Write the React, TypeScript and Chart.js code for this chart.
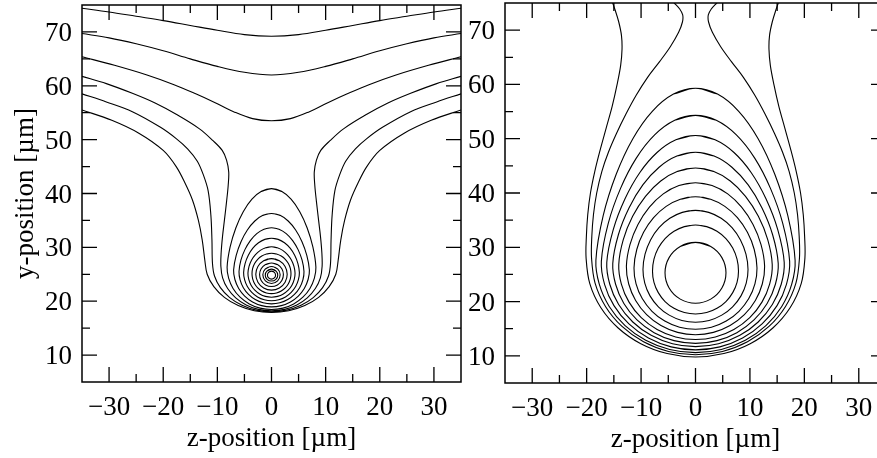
import React, { useEffect, useRef } from "react";
import { Chart, registerables } from "chart.js";

Chart.register(...registerables);

type P = [number, number];

// ---------- Left panel: open curves (right half, centre -> edge) ----------
const leftOpen1: P[] = [[0, 69.2], [5, 69.5], [10, 70.3], [15, 71.2], [20, 72.1], [25, 72.9], [30, 73.7], [35, 74.4]];
const leftOpen2: P[] = [[0, 62.0], [5, 62.5], [10, 63.6], [15, 65.0], [20, 66.5], [25, 67.8], [30, 68.9], [35, 69.7]];
const leftOpen3: P[] = [[0, 53.5], [3.5, 53.9], [7, 55.2], [10.5, 56.9], [14, 58.5], [18, 60.2], [23, 62.0], [29, 63.8], [35, 65.4]];
// deep U curves (right half, bottom -> edge)
const leftU4: P[] = [[0, 18.2], [2.42, 18.48], [4.68, 19.31], [6.61, 20.63], [8.1, 22.35], [9.03, 24.35], [9.35, 26.5], [9.3, 29], [9.05, 32], [8.7, 35], [8.3, 38.5], [8.0, 41.5], [7.9, 44], [8.3, 46.2], [9.1, 48], [10.8, 49.8], [13.3, 52.0], [17.6, 54.7], [21.5, 56.8], [25.7, 58.6], [30.5, 60.4], [35, 61.75]];
const leftU5: P[] = [[0, 18.05], [2.82, 18.35], [5.45, 19.25], [7.71, 20.67], [9.44, 22.53], [10.53, 24.68], [10.9, 27], [11.0, 31.4], [11.2, 36], [11.7, 40.5], [12.6, 43.5], [13.7, 46], [15.5, 48.3], [17.6, 50.2], [20.5, 52.3], [25.7, 55.2], [30.5, 57.0], [35, 58.5]];
const leftU6: P[] = [[0, 17.9], [3.19, 18.23], [6.15, 19.19], [8.7, 20.71], [10.65, 22.7], [11.88, 25.01], [12.3, 27.5], [12.8, 31.4], [13.5, 35], [14.6, 38.8], [16.0, 42], [17.6, 45.0], [20, 48], [24.5, 51.2], [29.5, 53.6], [35, 55.5]];
// closed loops (right half, top -> bottom)
const leftLoop1: P[] = [[0, 40.9], [1.85, 40.4], [3.61, 38.94], [5.22, 36.62], [6.59, 33.6], [7.64, 30.08], [8.2, 26.3], [7.92, 24.27], [7.1, 22.37], [5.8, 20.75], [4.1, 19.5], [2.12, 18.72], [0, 18.45]];
const leftLoop2: P[] = [[0, 36.3], [1.58, 35.94], [3.08, 34.89], [4.46, 33.22], [5.63, 31.05], [6.52, 28.52], [7.0, 25.8], [6.76, 24.03], [6.06, 22.37], [4.95, 20.96], [3.5, 19.87], [1.81, 19.18], [0, 18.95]];
const leftLoop3: P[] = [[0, 33.65], [1.39, 33.37], [2.72, 32.56], [3.91, 31.26], [4.91, 29.58], [5.65, 27.61], [6.0, 25.5], [5.8, 23.95], [5.2, 22.5], [4.24, 21.26], [3.0, 20.3], [1.55, 19.7], [0, 19.5]];
const leftLoop4: P[] = [[0, 31.7], [1.23, 31.48], [2.4, 30.85], [3.44, 29.84], [4.28, 28.53], [4.88, 26.99], [5.15, 25.35], [4.97, 23.99], [4.46, 22.72], [3.64, 21.64], [2.58, 20.8], [1.33, 20.28], [0, 20.1]];
const leftLoop5: P[] = [[0, 30.1], [1.07, 29.93], [2.07, 29.44], [2.96, 28.66], [3.67, 27.65], [4.15, 26.47], [4.35, 25.2], [4.2, 24.05], [3.77, 22.98], [3.08, 22.05], [2.18, 21.35], [1.13, 20.9], [0, 20.75]];
const leftLoop6: P[] = [[0, 28.9], [0.93, 28.77], [1.8, 28.39], [2.55, 27.79], [3.12, 27.0], [3.48, 26.08], [3.6, 25.1], [3.48, 24.14], [3.12, 23.25], [2.55, 22.48], [1.8, 21.9], [0.93, 21.53], [0, 21.4]];
const leftLoop7: P[] = [[0, 27.9], [1.45, 27.51], [2.51, 26.45], [2.9, 25.0], [2.51, 23.53], [1.45, 22.45], [0, 22.06]];
const leftLoop8: P[] = [[0, 27.1], [1.1, 26.81], [1.91, 26.03], [2.2, 24.95], [1.91, 23.84], [1.1, 23.02], [0, 22.72]];
const leftLoop9: P[] = [[0, 26.45], [1.13, 26.0], [1.6, 24.9], [1.13, 23.77], [0, 23.3]];
const leftLoop10: P[] = [[0, 25.95], [0.81, 25.62], [1.15, 24.84], [0.81, 24.06], [0, 23.74]];
const leftLoop11: P[] = [[0, 25.58], [0.53, 25.36], [0.75, 24.84], [0.53, 24.32], [0, 24.1]];

// ---------- Right panel ----------
// U curves open at the top (right half, bottom -> top)
const rightUOuter: P[] = [[0, 9.8], [5.21, 10.42], [10.05, 12.24], [14.21, 15.13], [17.41, 18.9], [19.42, 23.29], [20.1, 28], [20.05, 32], [19.8, 36], [19.3, 40], [18.5, 44], [17.5, 48], [16.4, 52], [15.3, 56], [14.4, 60], [13.75, 63.5], [13.5, 66.5], [13.6, 69], [14.1, 71.5], [14.8, 73.8], [15.4, 75.5], [15.8, 76.5]];
const rightUInner: P[] = [[0, 10.2], [4.95, 10.81], [9.55, 12.59], [13.5, 15.42], [16.54, 19.1], [18.45, 23.39], [19.1, 28], [19.05, 32], [18.75, 36], [18.15, 40], [17.2, 44], [16.0, 47.5], [14.5, 51], [12.8, 54.5], [10.9, 58], [8.8, 61.3], [6.6, 64.2], [4.6, 67], [3.1, 69.6], [2.4, 71.5], [2.35, 72.8], [2.9, 73.9], [3.9, 75.0], [4.8, 75.9]];
// closed contours (right half, top -> bottom)
const rightLoop1: P[] = [[0, 59.3], [4.04, 58.22], [7.94, 55.05], [11.51, 50.01], [14.57, 43.45], [16.96, 35.81], [18.3, 27.6], [17.68, 23.2], [15.85, 19.1], [12.94, 15.58], [9.15, 12.88], [4.74, 11.18], [0, 10.6]];
const rightLoop2: P[] = [[0, 54.3], [3.82, 53.39], [7.51, 50.7], [10.88, 46.42], [13.77, 40.85], [16.04, 34.37], [17.3, 27.4], [16.71, 23.18], [14.98, 19.25], [12.23, 15.88], [8.65, 13.28], [4.48, 11.65], [0, 11.1]];
const rightLoop3: P[] = [[0, 50.6], [3.6, 49.8], [7.07, 47.46], [10.25, 43.74], [12.97, 38.9], [15.11, 33.26], [16.3, 27.2], [15.75, 23.19], [14.12, 19.45], [11.52, 16.24], [8.15, 13.78], [4.22, 12.23], [0, 11.7]];
const rightLoop4: P[] = [[0, 47.5], [3.42, 46.8], [6.69, 44.75], [9.68, 41.49], [12.22, 37.25], [14.17, 32.31], [15.2, 27], [14.68, 23.19], [13.16, 19.65], [10.75, 16.61], [7.6, 14.27], [3.94, 12.8], [0, 12.3]];
const rightLoop5: P[] = [[0, 44.6], [3.27, 43.99], [6.39, 42.21], [9.19, 39.38], [11.55, 35.7], [13.27, 31.41], [14.1, 26.8], [13.62, 23.23], [12.21, 19.9], [9.97, 17.04], [7.05, 14.85], [3.65, 13.47], [0, 13.0]];
const rightLoop6: P[] = [[0, 41.9], [3.04, 41.38], [5.92, 39.84], [8.47, 37.39], [10.57, 34.2], [12.04, 30.49], [12.7, 26.5], [12.27, 23.24], [11.0, 20.2], [8.98, 17.59], [6.35, 15.59], [3.29, 14.33], [0, 13.9]];
const rightLoop7: P[] = [[0, 39.3], [2.78, 38.85], [5.39, 37.54], [7.7, 35.46], [9.54, 32.75], [10.79, 29.59], [11.3, 26.2], [10.92, 23.27], [9.79, 20.55], [7.99, 18.21], [5.65, 16.41], [2.93, 15.28], [0, 14.9]];
const rightLoop8: P[] = [[0, 36.8], [2.43, 36.43], [4.72, 35.34], [6.71, 33.61], [8.26, 31.35], [9.27, 28.72], [9.65, 25.9], [9.32, 23.39], [8.36, 21.05], [6.82, 19.04], [4.83, 17.5], [2.5, 16.53], [0, 16.2]];
const rightLoop9: P[] = [[0, 34.1], [2.05, 33.81], [3.95, 32.96], [5.59, 31.61], [6.84, 29.85], [7.63, 27.8], [7.9, 25.6], [7.63, 23.55], [6.84, 21.65], [5.59, 20.01], [3.95, 18.76], [2.05, 17.97], [0, 17.7]];
const rightLoop10: P[] = [[0, 30.9], [2.8, 30.15], [4.85, 28.1], [5.6, 25.3], [4.85, 22.5], [2.8, 20.45], [0, 19.7]];

// ---------- Axes ----------
const xMajorTicks = [-30, -20, -10, 0, 10, 20, 30];
const xTickLabels = ["\u221230", "\u221220", "\u221210", "0", "10", "20", "30"];
const xMinorTicks = [-25, -15, -5, 5, 15, 25];
const yMajorTicks = [10, 20, 30, 40, 50, 60, 70];
const yTickLabels = ["10", "20", "30", "40", "50", "60", "70"];
const yMinorTicks = [15, 25, 35, 45, 55, 65];
const xTitle = "z-position [\u00b5m]";
const yTitle = "y-position [\u00b5m]";

const FONT = '"Liberation Serif", "Times New Roman", serif';

type XY = { x: number; y: number };

function mirrorLoop(half: P[]): XY[] {
  const left: P[] = half.slice(1, -1).reverse().map(([x, y]) => [-x, y] as P);
  const ring: P[] = [...half, ...left];
  const seq: P[] = [ring[ring.length - 1], ...ring, ring[0], ring[1]];
  return seq.map(([x, y]) => ({ x, y }));
}

function mirrorOpen(half: P[]): XY[] {
  const left: P[] = half.slice(1).reverse().map(([x, y]) => [-x, y] as P);
  return [...left, ...half].map(([x, y]) => ({ x, y }));
}

function makeAxesPlugin(showYTitle: boolean) {
  return {
    id: "frameAxes",
    afterDraw(chart: any) {
      const ctx: CanvasRenderingContext2D = chart.ctx;
      const a = chart.chartArea;
      const xs = chart.scales.x;
      const ys = chart.scales.y;
      ctx.save();
      ctx.strokeStyle = "#000";
      ctx.fillStyle = "#000";
      ctx.lineWidth = 1.5;
      ctx.strokeRect(a.left, a.top, a.right - a.left, a.bottom - a.top);
      ctx.lineWidth = 1.3;
      const MAJ = 15;
      const MIN = 8;
      ctx.beginPath();
      const xt = (v: number, len: number) => {
        const px = xs.getPixelForValue(v);
        ctx.moveTo(px, a.bottom);
        ctx.lineTo(px, a.bottom - len);
        ctx.moveTo(px, a.top);
        ctx.lineTo(px, a.top + len);
      };
      const yt = (v: number, len: number) => {
        const py = ys.getPixelForValue(v);
        ctx.moveTo(a.left, py);
        ctx.lineTo(a.left + len, py);
        ctx.moveTo(a.right, py);
        ctx.lineTo(a.right - len, py);
      };
      xMajorTicks.forEach((v) => xt(v, MAJ));
      xMinorTicks.forEach((v) => xt(v, MIN));
      yMajorTicks.forEach((v) => yt(v, MAJ));
      yMinorTicks.forEach((v) => yt(v, MIN));
      ctx.stroke();

      ctx.font = `27px ${FONT}`;
      ctx.textBaseline = "alphabetic";
      ctx.textAlign = "center";
      xMajorTicks.forEach((v, i) => {
        ctx.fillText(xTickLabels[i], xs.getPixelForValue(v), a.bottom + 33);
      });
      ctx.textAlign = "right";
      yMajorTicks.forEach((v, i) => {
        ctx.fillText(yTickLabels[i], a.left - 10, ys.getPixelForValue(v) + 9);
      });
      ctx.textAlign = "center";
      ctx.fillText(xTitle, xs.getPixelForValue(0), a.bottom + 64);
      if (showYTitle) {
        ctx.save();
        ctx.translate(33, (a.top + a.bottom) / 2);
        ctx.rotate(-Math.PI / 2);
        ctx.textAlign = "center";
        ctx.fillText(yTitle, 0, 0);
        ctx.restore();
      }
      ctx.restore();
    },
  };
}

type PanelProps = {
  left: number;
  width: number;
  open: P[][];
  loops: P[][];
  padding: { left: number; right: number; top: number; bottom: number };
  showYTitle: boolean;
};

function Panel(props: PanelProps) {
  const ref = useRef<HTMLCanvasElement | null>(null);
  useEffect(() => {
    if (!ref.current) return;
    const datasets = [
      ...props.open.map((h) => mirrorOpen(h)),
      ...props.loops.map((h) => mirrorLoop(h)),
    ].map((pts) => ({
      data: pts,
      showLine: true,
      borderColor: "#000",
      borderWidth: 1.1,
      pointRadius: 0,
      pointHoverRadius: 0,
      tension: 0.35,
      fill: false,
    }));
    const chart = new Chart(ref.current, {
      type: "scatter",
      data: { datasets },
      options: {
        animation: false,
        responsive: false,
        maintainAspectRatio: false,
        devicePixelRatio: 1,
        events: [],
        layout: { padding: props.padding },
        plugins: { legend: { display: false }, tooltip: { enabled: false } },
        scales: {
          x: { type: "linear", min: -35, max: 35, display: false },
          y: { type: "linear", min: 5, max: 75, display: false },
        },
      } as any,
      plugins: [makeAxesPlugin(props.showYTitle)],
    });
    return () => chart.destroy();
  }, []);
  return (
    <canvas
      ref={ref}
      width={props.width}
      height={458}
      style={{ position: "absolute", left: props.left, top: 0, width: props.width, height: 458, display: "block" }}
    />
  );
}

export default function App() {
  return (
    <div style={{ position: "fixed", left: 0, top: 0, width: 877, height: 458, overflow: "hidden", background: "#fff" }}>
      <Panel
        left={0}
        width={463}
        open={[leftOpen1, leftOpen2, leftOpen3, leftU4, leftU5, leftU6]}
        loops={[leftLoop1, leftLoop2, leftLoop3, leftLoop4, leftLoop5, leftLoop6, leftLoop7, leftLoop8, leftLoop9, leftLoop10, leftLoop11]}
        padding={{ left: 82, right: 2, top: 5, bottom: 76 }}
        showYTitle={true}
      />
      <Panel
        left={463}
        width={437}
        open={[rightUOuter, rightUInner]}
        loops={[rightLoop1, rightLoop2, rightLoop3, rightLoop4, rightLoop5, rightLoop6, rightLoop7, rightLoop8, rightLoop9, rightLoop10]}
        padding={{ left: 42, right: 14, top: 3, bottom: 75 }}
        showYTitle={false}
      />
    </div>
  );
}
